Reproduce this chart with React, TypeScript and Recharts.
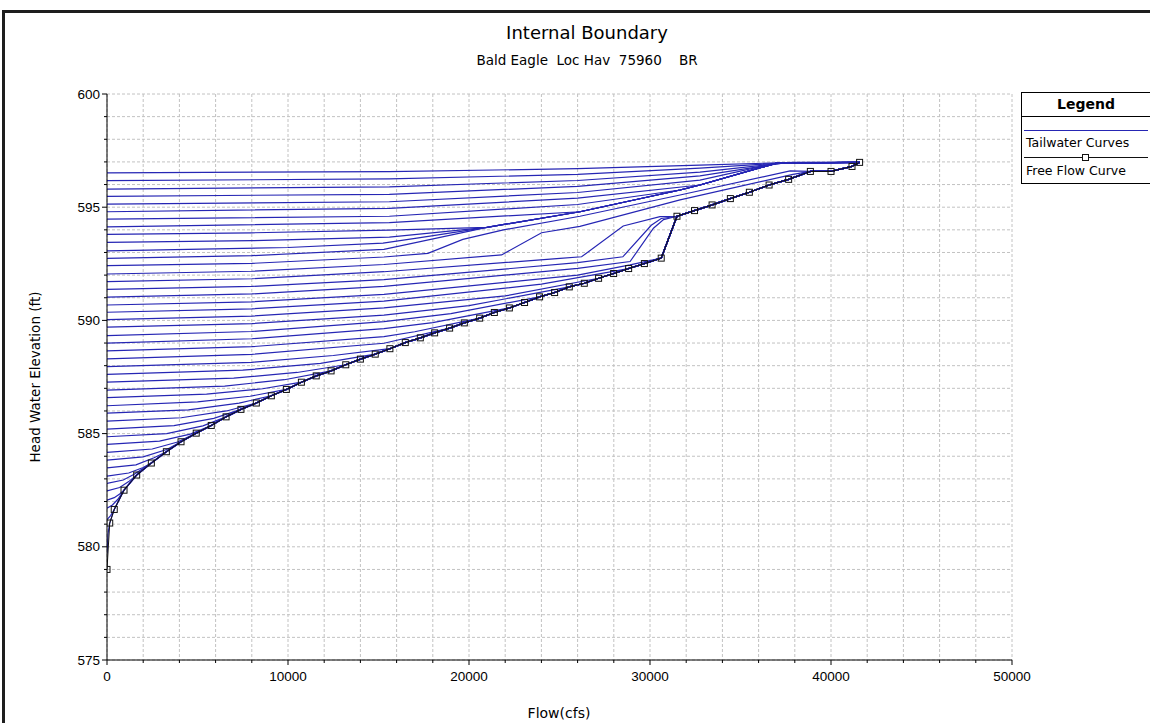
import { LineChart, Line, XAxis, YAxis, CartesianGrid } from "recharts"

// free flow curve (flow cfs / head water elevation ft)
const freeFlowQ = [
  0, 150, 400, 940, 1640, 2450, 3280, 4090, 4930, 5760, 6580, 7400, 8250, 9080, 9910,
  10740, 11560, 12380, 13190, 14000, 14820, 15630, 16480, 17310, 18100, 18930, 19740,
  20590, 21400, 22230, 23070, 23900, 24730, 25540, 26370, 27160, 27990, 28820, 29690,
  30620, 31490, 32460, 33430, 34440, 35490, 36580, 37660, 38860, 40000, 41160, 41580,
]
const freeFlowElev = [
  579.0, 581.05, 581.65, 582.5, 583.17, 583.7, 584.2, 584.64, 585.02, 585.36, 585.74,
  586.07, 586.35, 586.67, 586.95, 587.27, 587.55, 587.77, 588.04, 588.29, 588.51, 588.75,
  589.02, 589.23, 589.45, 589.66, 589.89, 590.1, 590.35, 590.55, 590.79, 591.04, 591.23,
  591.48, 591.64, 591.86, 592.07, 592.29, 592.51, 592.75, 594.6, 594.85, 595.1, 595.38,
  595.66, 595.98, 596.23, 596.58, 596.58, 596.8, 596.98,
]

// tailwater curves that stay above the free flow curve up to the last point
const upperCurves: number[][][] = [
  [[0, 596.52], [15600, 596.57], [26000, 596.7], [32760, 596.86], [38000, 596.98], [41580, 596.98]],
  [[0, 596.17], [15600, 596.25], [26000, 596.45], [32760, 596.73], [37800, 596.97], [41580, 596.98]],
  [[0, 595.8], [15600, 595.9], [26000, 596.18], [32760, 596.55], [37500, 596.96], [41580, 596.98]],
  [[0, 595.48], [15600, 595.57], [26000, 595.92], [32760, 596.38], [37300, 596.95], [41580, 596.98]],
  [[0, 595.14], [15600, 595.24], [26000, 595.65], [32760, 596.2], [37000, 596.95], [41580, 596.98]],
  [[0, 594.8], [15600, 594.95], [26000, 595.4], [32760, 595.98], [37000, 596.95], [41580, 596.98]],
  [[0, 594.47], [15600, 594.6], [26000, 595.12], [31660, 595.76], [32760, 595.98], [37000, 596.95], [41580, 596.98]],
  [[0, 594.13], [15600, 594.32], [26130, 594.8], [31660, 595.76], [32760, 595.98], [37000, 596.95], [41580, 596.98]],
  [[0, 593.8], [8000, 593.87], [15600, 593.99], [20990, 594.11], [26130, 594.8], [31660, 595.76], [32760, 595.98], [37000, 596.95], [41580, 596.98]],
  [[0, 593.45], [8000, 593.52], [15600, 593.68], [20990, 594.11], [26130, 594.8], [31660, 595.76], [32760, 595.98], [37000, 596.95], [41580, 596.98]],
  [[0, 593.07], [10000, 593.22], [15250, 593.41], [17120, 593.63], [20990, 594.11], [26130, 594.8], [31660, 595.76], [32760, 595.98], [37000, 596.95], [41580, 596.98]],
  [[0, 592.74], [8000, 592.86], [15300, 593.14], [20990, 594.11], [26130, 594.8], [31660, 595.76], [32760, 595.98], [37000, 596.95], [41580, 596.98]],
]

// tailwater curves that end on the free flow curve: own points, then the free flow index they join at
const joiningCurves: { pts: number[][]; join: number }[] = [
  { pts: [[0, 592.42], [8000, 592.52], [15300, 592.8], [17730, 592.96], [19660, 593.58], [21900, 594.0], [26130, 594.6], [31660, 595.54], [37740, 596.6]], join: 47 },
  { pts: [[0, 592.05], [8000, 592.17], [15300, 592.47], [21800, 592.89], [24010, 593.87], [26130, 594.15], [31660, 595.32], [37900, 596.45]], join: 47 },
  { pts: [[0, 591.71], [8000, 591.84], [15300, 592.15], [25030, 592.74], [26220, 592.81], [28520, 594.17], [30550, 594.58]], join: 40 },
  { pts: [[0, 591.37], [8000, 591.5], [15300, 591.8], [26000, 592.55], [28500, 592.81], [30070, 594.2], [30620, 594.5]], join: 40 },
  { pts: [[0, 591.03], [8000, 591.17], [15300, 591.5], [26000, 592.3], [28900, 592.6], [30190, 594.07], [30750, 594.45]], join: 40 },
  { pts: [[0, 590.68], [8000, 590.82], [15300, 591.15], [26000, 592.0], [28900, 592.45]], join: 39 },
  { pts: [[0, 590.36], [8000, 590.51], [15300, 590.85], [24000, 591.6]], join: 37 },
  { pts: [[0, 590.03], [8000, 590.19], [15300, 590.55], [22000, 591.08]], join: 35 },
  { pts: [[0, 589.7], [8000, 589.86], [15300, 590.23], [20000, 590.65]], join: 33 },
  { pts: [[0, 589.33], [8000, 589.51], [15300, 589.95], [19000, 590.3]], join: 31 },
  { pts: [[0, 589.0], [8000, 589.19], [15300, 589.64], [18000, 589.9]], join: 29 },
  { pts: [[0, 588.65], [8000, 588.84], [15300, 589.28], [17000, 589.5]], join: 27 },
  { pts: [[0, 588.3], [8000, 588.5], [15300, 588.99]], join: 25 },
  { pts: [[0, 587.96], [8000, 588.15], [12500, 588.45]], join: 21 },
  { pts: [[0, 587.62], [7500, 587.8], [11800, 588.1]], join: 20 },
  { pts: [[0, 587.27], [7000, 587.45], [10500, 587.7]], join: 18 },
  { pts: [[0, 586.92], [6500, 587.1], [9800, 587.38]], join: 17 },
  { pts: [[0, 586.59], [5500, 586.74], [8600, 586.98]], join: 15 },
  { pts: [[0, 586.23], [5000, 586.4], [7900, 586.65]], join: 14 },
  { pts: [[0, 585.9], [4500, 586.05], [7300, 586.35]], join: 13 },
  { pts: [[0, 585.55], [4100, 585.7], [6600, 586.0]], join: 12 },
  { pts: [[0, 585.2], [3700, 585.35], [5900, 585.67]], join: 11 },
  { pts: [[0, 584.86], [3300, 585.0], [5300, 585.34]], join: 10 },
  { pts: [[0, 584.52], [2900, 584.67], [4600, 584.98]], join: 9 },
  { pts: [[0, 584.17], [2500, 584.32], [3900, 584.63]], join: 8 },
  { pts: [[0, 583.83], [2000, 583.97], [3300, 584.3]], join: 7 },
  { pts: [[0, 583.49], [1600, 583.62], [2600, 583.93]], join: 6 },
  { pts: [[0, 583.12], [1200, 583.26], [2000, 583.5]], join: 5 },
  { pts: [[0, 582.8], [900, 582.95], [1500, 583.2]], join: 5 },
  { pts: [[0, 582.47], [700, 582.62], [1200, 582.88]], join: 4 },
  { pts: [[0, 582.06], [400, 582.17], [700, 582.33]], join: 3 },
  { pts: [[0, 581.7], [300, 581.85], [600, 582.1]], join: 3 },
  { pts: [[0, 581.2], [200, 581.38]], join: 2 },
  { pts: [[0, 579.7], [60, 580.6]], join: 1 },
]

const xTicks = [
  0, 2000, 4000, 6000, 8000, 10000, 12000, 14000, 16000, 18000, 20000, 22000, 24000,
  26000, 28000, 30000, 32000, 34000, 36000, 38000, 40000, 42000, 44000, 46000, 48000, 50000,
]
const yTicks = [
  575, 576, 577, 578, 579, 580, 581, 582, 583, 584, 585, 586, 587, 588, 589, 590, 591,
  592, 593, 594, 595, 596, 597, 598, 599, 600,
]

const BLUE = "#2626b4"
const TEXT_FONT = "'DejaVu Sans', sans-serif"
const NUM_FONT = "'Liberation Sans', Arial, sans-serif"

const freeFlow = freeFlowQ.map((q, i) => ({ q, e: freeFlowElev[i] }))
const toRows = (pts: number[][]) => pts.map(([q, e]) => ({ q, e }))
const tailwater = [
  ...upperCurves.map(toRows),
  ...joiningCurves.map((c) => [...toRows(c.pts), ...freeFlow.slice(c.join)]),
]

function YTick({ x, y, payload }: any) {
  const major = payload.value % 5 === 0
  return (
    <g>
      <line x1={x - (major ? 5 : 3)} x2={x} y1={y} y2={y} stroke="#000" />
      {major && (
        <text x={x - 7} y={y} dy={4.5} textAnchor="end" fontSize={13.5} fontFamily={NUM_FONT} fill="#000">
          {payload.value}
        </text>
      )}
    </g>
  )
}

function XTick({ x, y, payload }: any) {
  const major = payload.value % 10000 === 0
  return (
    <g>
      <line x1={x} x2={x} y1={y} y2={y + (major ? 5 : 3)} stroke="#000" />
      {major && (
        <text x={x} y={y + 20.5} textAnchor="middle" fontSize={13.5} fontFamily={NUM_FONT} fill="#000">
          {payload.value}
        </text>
      )}
    </g>
  )
}

function Square(props: any) {
  const { cx, cy, index } = props
  if (cx == null || cy == null) return <g key={`s${index}`} />
  return <rect key={`s${index}`} x={cx - 3} y={cy - 3} width={6} height={6} fill="none" stroke="#111" strokeWidth={1} />
}

export default function App() {
  return (
    <div style={{ position: "absolute", left: 0, top: 0, width: 1150, height: 723, overflow: "hidden", background: "#fff" }}>
      <div
        style={{
          position: "absolute",
          left: 2,
          top: 10,
          width: 1200,
          height: 800,
          borderTop: "3px solid #1e1e1e",
          borderLeft: "3px solid #1e1e1e",
        }}
      />
      <div style={{ position: "absolute", left: 0, top: 0 }}>
        <LineChart width={1150} height={723} margin={{ top: 94, right: 138, bottom: 33, left: 47 }}>
          <CartesianGrid stroke="#c2c2c2" strokeDasharray="3 2" />
          <XAxis
            type="number"
            dataKey="q"
            domain={[0, 50000]}
            ticks={xTicks}
            interval={0}
            height={30}
            tickSize={0}
            tickMargin={0}
            tickLine={false}
            axisLine={{ stroke: "#000" }}
            tick={<XTick />}
            allowDataOverflow
          />
          <YAxis
            type="number"
            dataKey="e"
            domain={[575, 600]}
            ticks={yTicks}
            interval={0}
            width={60}
            tickSize={0}
            tickMargin={0}
            tickLine={false}
            axisLine={{ stroke: "#000" }}
            tick={<YTick />}
            allowDataOverflow
          />
          {tailwater.map((rows, i) => (
            <Line
              key={`tw${i}`}
              data={rows}
              dataKey="e"
              type="linear"
              stroke={BLUE}
              strokeWidth={1.2}
              dot={false}
              activeDot={false}
              isAnimationActive={false}
            />
          ))}
          <Line
            data={freeFlow}
            dataKey="e"
            type="linear"
            stroke="#111"
            strokeWidth={1}
            dot={Square}
            activeDot={false}
            isAnimationActive={false}
          />
        </LineChart>
      </div>
      <svg width={1150} height={723} style={{ position: "absolute", left: 0, top: 0, pointerEvents: "none" }}>
        <text x={587} y={39} textAnchor="middle" fontSize={18} fontFamily={TEXT_FONT} fill="#000">
          Internal Boundary
        </text>
        <text x={587} y={65} textAnchor="middle" fontSize={13.5} fontFamily={TEXT_FONT} fill="#000" style={{ whiteSpace: "pre" }}>
          {"Bald Eagle  Loc Hav  75960    BR"}
        </text>
        <text
          x={35}
          y={377}
          textAnchor="middle"
          fontSize={13.5}
          fontFamily={TEXT_FONT}
          fill="#000"
          transform="rotate(-90 35 377)"
          dy={5}
        >
          Head Water Elevation (ft)
        </text>
        <text x={559} y={718} textAnchor="middle" fontSize={14} fontFamily={TEXT_FONT} fill="#000">
          Flow(cfs)
        </text>
        <g>
          <rect x={1021.5} y={92.5} width={135} height={91} fill="#fff" stroke="#000" />
          <text x={1086} y={109} textAnchor="middle" fontSize={14} fontWeight="bold" fontFamily={TEXT_FONT} fill="#000">
            Legend
          </text>
          <line x1={1021} x2={1156} y1={116.5} y2={116.5} stroke="#000" />
          <line x1={1024} x2={1148} y1={130.5} y2={130.5} stroke={BLUE} />
          <text x={1026} y={147} fontSize={12.5} fontFamily={TEXT_FONT} fill="#000">
            Tailwater Curves
          </text>
          <line x1={1024} x2={1148} y1={157.5} y2={157.5} stroke="#111" />
          <rect x={1082.5} y={154.5} width={6} height={6} fill="#fff" stroke="#111" />
          <text x={1026} y={175} fontSize={12.5} fontFamily={TEXT_FONT} fill="#000">
            Free Flow Curve
          </text>
        </g>
      </svg>
    </div>
  )
}
